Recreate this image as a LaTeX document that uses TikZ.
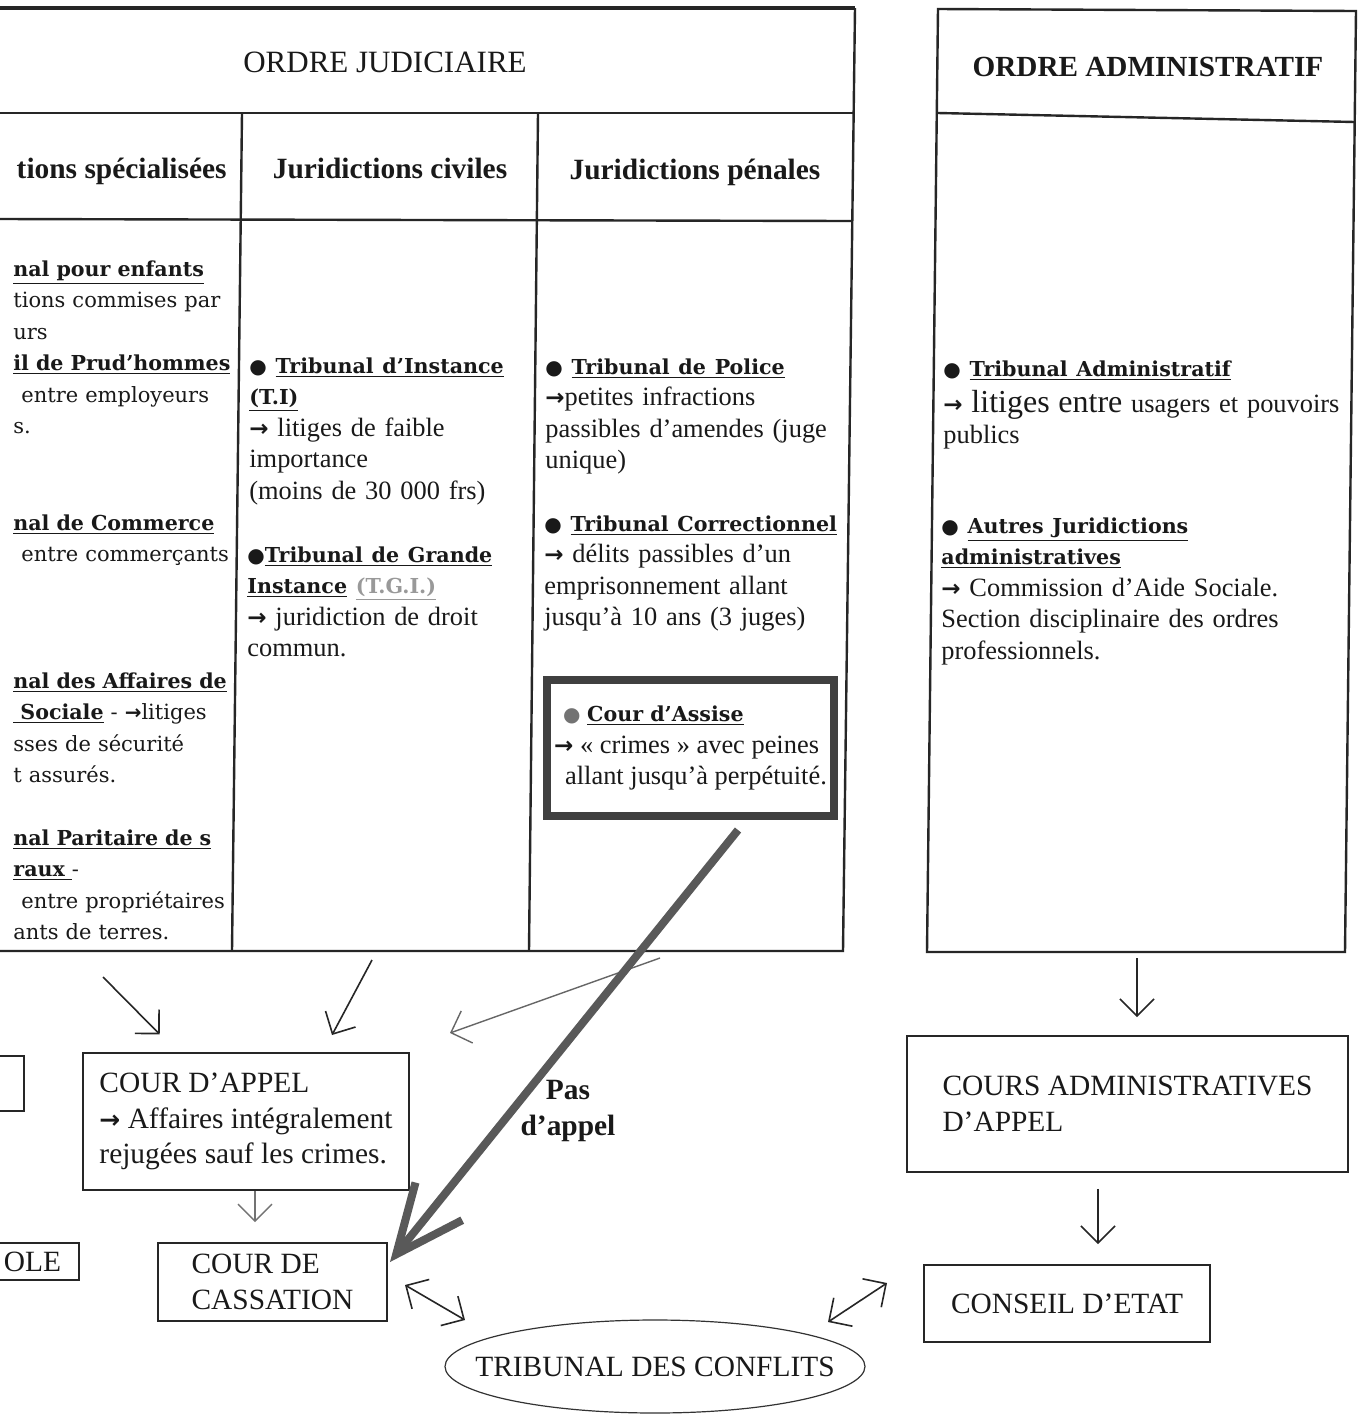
\documentclass[tikz,border=0pt]{standalone}
\usepackage{fontspec}
\setmainfont{Liberation Serif}
\newfontfamily\titfont{DejaVu Serif}
\newfontfamily\symfont{DejaVu Sans}
\usetikzlibrary{arrows.meta, positioning, shapes.geometric}

\newcommand{\corps}{\fontsize{13.2}{15.75}\selectfont}
\newcommand{\gauche}{\titfont\fontsize{10.5}{15.75}\selectfont}
\newcommand{\grand}{\fontsize{14.7}{17.75}\selectfont}
\newcommand{\titre}[1]{\underline{\titfont\bfseries\fontsize{10.3}{15.75}\selectfont #1}}
\newcommand{\puce}{{\symfont\fontsize{10}{10}\selectfont ●}}
\newcommand{\fl}[1][11.5]{{\symfont\bfseries\fontsize{#1}{#1}\selectfont →}}

\begin{document}
\begin{tikzpicture}[
    x=0.5pt, y=-0.5pt,
    color=black!90,
    cadre/.style={line width=1.2pt, draw=black!85},
    colonne/.style={anchor=base west, inner sep=0pt, align=left, text width=160pt, font=\corps},
    gauche/.style={colonne, text width=120pt, font=\gauche},
    entete/.style={anchor=base, inner sep=0pt, font=\fontsize{14.7}{17}\selectfont\bfseries},
    boite/.style={draw=black!85, line width=0.9pt, inner sep=0pt, align=left, font=\grand},
    fleche/.style={-{Straight Barb[length=8.5pt, width=17pt]}, line width=0.8pt, draw=black!85},
    fleched/.style={{Straight Barb[length=8.5pt, width=17pt]}-{Straight Barb[length=8.5pt, width=17pt]}, line width=0.8pt, draw=black!85},
    grosse/.style={-{Straight Barb[length=34pt, width=30pt]}, line width=4pt, draw=black!65}
]
    \useasboundingbox[fill=white] (0,0) rectangle (1358,1415);

    % Cadres
    \draw[cadre, line width=1.6pt] (0,8) -- (855,8);
    \draw[cadre] (855,8) -- (843,951) -- (0,951);
    \draw[cadre] (0,113) -- (853,113);
    \draw[cadre] (0,219) -- (851,221);
    \draw[cadre] (242,113) -- (232,951);
    \draw[cadre] (538,113) -- (529,951);
    \draw[cadre] (938,9) -- (1356,11) -- (1345,952) -- (927,952) -- cycle;
    \draw[cadre] (938,113) -- (1355,122);

    % En-tetes
    \node[anchor=base, font=\fontsize{15.5}{18}\selectfont] (judiciaire) at (385,72) {ORDRE JUDICIAIRE};
    \node[anchor=base, font=\fontsize{14.6}{18}\selectfont\bfseries] (administratif) at (1148,76) {ORDRE ADMINISTRATIF};
    \node[entete, anchor=base east] (specialisees) at (227,178) {tions spécialisées};
    \node[entete] (civiles) at (390,178) {Juridictions civiles};
    \node[entete] (penales) at (695,179) {Juridictions pénales};

    % Juridictions specialisees
    \node[gauche] (enfants) at (13,276) {\titre{nal pour enfants}\\tions commises par\\urs\\\titre{il de Prud’hommes}\\\hspace*{4pt}entre employeurs\\s.};
    \node[gauche] (commerce) at (13,530) {\titre{nal de Commerce}\\\hspace*{4pt}entre commerçants};
    \node[gauche] (securite) at (13,688) {\titre{nal des Affaires de}\\\titre{\ Sociale} - \fl[10]litiges\\sses de sécurité\\t assurés.};
    \node[gauche] (paritaire) at (13,845) {\titre{nal Paritaire de s}\\\titre{raux\ }-\\\hspace*{4pt}entre propriétaires\\ants de terres.};

    % Juridictions civiles
    \node[colonne, text width=150pt] (instance) at (249,373) {\puce\ \titre{Tribunal d’Instance}\\\titre{(T.I)}\\\fl\ litiges de faible\\importance\\(moins de 30 000 frs)};
    \node[colonne, text width=150pt] (tgi) at (247,562) {\puce\titre{Tribunal de Grande}\\\titre{Instance} {\color{black!40}\titre{(T.G.I.)}}\\\fl\ juridiction de droit\\commun.};

    % Juridictions penales
    \node[colonne, text width=155pt] (police) at (545,374) {\puce\ \titre{Tribunal de Police}\\\fl petites infractions\\passibles d’amendes (juge\\unique)};
    \node[colonne, text width=155pt] (correc) at (544,531) {\puce\ \titre{Tribunal Correctionnel}\\\fl\ délits passibles d’un\\emprisonnement allant\\jusqu’à 10 ans (3 juges)};
    \node[draw=black!75, line width=4pt, minimum width=143.5pt, minimum height=68pt, inner sep=0pt, align=left, font=\corps] (assise) at (690.5,748) {\hspace*{4.5pt}{\color{black!55}\puce} \titre{Cour d’Assise}\\\fl\ « crimes » avec peines\\\hspace*{5.5pt}allant jusqu’à perpétuité.};

    % Ordre administratif
    \node[colonne, text width=210pt] (ta) at (943,376) {\puce\ \titre{Tribunal Administratif}\\[2.25pt]\fl\ {\fontsize{16}{15.75}\selectfont litiges entre} usagers et pouvoirs\\publics};
    \node[colonne, text width=210pt] (autres) at (941,533) {\puce\ \titre{Autres Juridictions}\\\titre{administratives}\\\fl\ Commission d’Aide Sociale.\\Section disciplinaire des ordres\\professionnels.};

    % Juridictions d'appel et de cassation
    \node[boite, anchor=north east, minimum width=60pt, minimum height=27.5pt] (autre) at (25,1055) {};
    \node[boite, anchor=east, text width=50pt, align=right, inner xsep=9pt, minimum height=18.5pt] (ole) at (80,1261.5) {OLE};
    \node[boite, minimum width=163pt, minimum height=68.5pt] (appel) at (246,1121.5) {COUR D’APPEL\\\fl[12.5]\ Affaires intégralement\\rejugées sauf les crimes.};
    \node[boite, minimum width=114.5pt, minimum height=39pt] (cassation) at (272.5,1282) {COUR DE\\CASSATION};
    \node[boite, minimum width=220.5pt, minimum height=68pt] (caa) at (1127.5,1104) {COURS ADMINISTRATIVES\\D’APPEL};
    \node[boite, minimum width=143pt, minimum height=38.5pt] (ce) at (1067,1303.5) {CONSEIL D’ETAT};
    \node[draw=black!80, line width=0.6pt, ellipse, minimum width=210pt, minimum height=46.5pt, inner xsep=-20pt, inner ysep=0pt, font=\grand] (conflits) at (655,1366.5) {TRIBUNAL DES CONFLITS};
    \node[anchor=base, inner sep=0pt, align=center, text width=60pt, font=\fontsize{14.7}{18}\selectfont\bfseries] (pasappel) at (568,1099) {Pas\\d’appel};

    % Fleches
    \coordinate (d1) at (103,977);
    \coordinate (d2) at (372,960);
    \coordinate (f2) at (332,1035);
    \coordinate (d3) at (660,958);
    \coordinate (f3) at (450,1033);
    \coordinate (d4) at (738,830);
    \coordinate (f4) at (390,1262);
    \coordinate (c1) at (405,1285);
    \coordinate (c2) at (465,1320);
    \coordinate (c3) at (887,1283);
    \coordinate (c4) at (828,1322);
    \coordinate (adm) at (1137,958);
    \coordinate (p1) at ([xshift=-14.75pt]caa.south);
    \coordinate (p2) at ([xshift=4.5pt]appel.south);

    \draw[fleche, shorten >=12.5pt] (d1) -- (appel);
    \draw[fleche] (d2) -- (f2);
    \draw[fleche, line width=0.7pt, draw=black!60] (d3) -- (f3);
    \draw[fleche, line width=0.7pt, draw=black!55, shorten >=10pt] (p2) -- (p2 |- cassation.north);
    \draw[fleche, shorten >=9pt] (adm) -- (adm |- caa.north);
    \draw[fleche, shorten <=8pt, shorten >=10pt] (p1) -- (p1 |- ce.north);
    \draw[fleched] (c1) -- (c2);
    \draw[fleched] (c3) -- (c4);
    \draw[grosse] (d4) -- (f4);

\end{tikzpicture}
\end{document}
